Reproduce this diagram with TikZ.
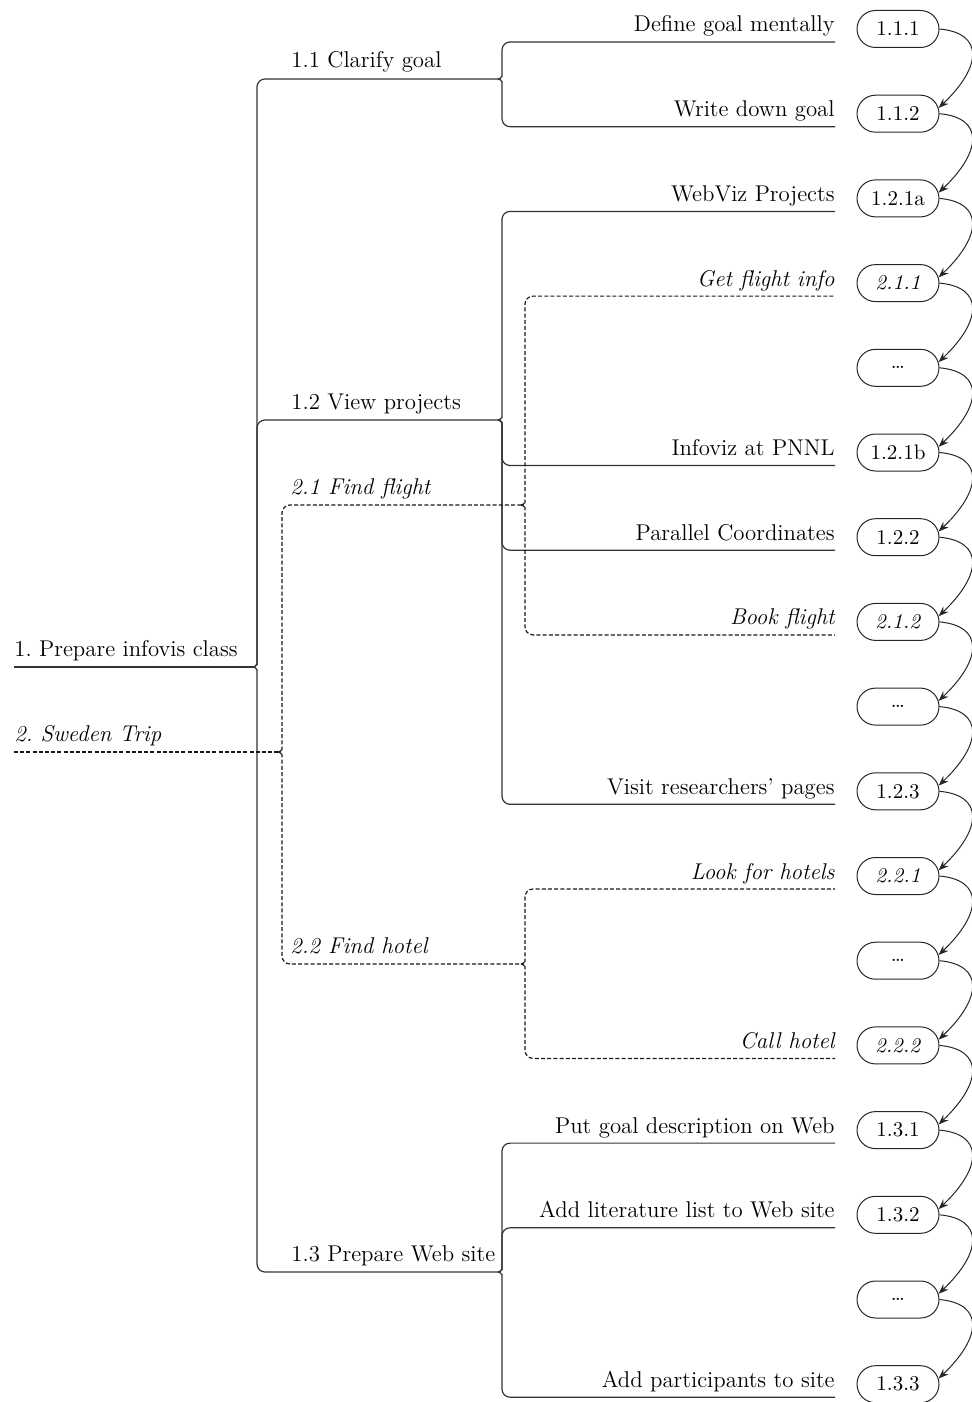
\documentclass[tikz,border=0pt]{standalone}
\usetikzlibrary{arrows.meta,shapes.misc,calc}

\tikzset{
  tree/.style={line width=0.6pt, draw=black!80, rounded corners=4pt},
  dtree/.style={tree, draw=black!90, dash pattern=on 2pt off 1.1pt},
  lbl/.style={inner sep=0pt, font=\fontsize{11.4}{13}\selectfont\frenchspacing},
  leaf/.style={lbl, anchor=base east},
  inner/.style={lbl, anchor=base west},
  pill/.style={draw=black!85, line width=0.5pt, rounded rectangle,
    minimum width=41pt, minimum height=18.5pt, inner sep=0pt,
    font=\fontsize{10.5}{12}\selectfont},
  flow/.style={-{Stealth[length=5pt,width=3.8pt]}, line width=0.5pt, draw=black!85}
}
% a branch leaving a brace tip upwards / downwards
\newcommand\upbr[3]{\draw[#1] (#2) to[out=0,in=-90] ++(4,-10) |- (#3);}
\newcommand\dnbr[3]{\draw[#1] (#2) to[out=0,in=90] ++(4,10) |- (#3);}

\begin{document}
\begin{tikzpicture}[x=0.5pt,y=-0.5pt]
\useasboundingbox (0,0) rectangle (972,1402);

% ---- branch tips ----
\coordinate (r1s) at (14,667);   \coordinate (r1) at (253,667);
\coordinate (r2s) at (14,752);   \coordinate (r2) at (278,752);
\coordinate (c11) at (498,79);
\coordinate (c12) at (498,420);
\coordinate (c13) at (498,1272);
\coordinate (c21) at (521,505);
\coordinate (c22) at (521,964);

% ---- leaf line ends (one row every 84.7px) ----
\foreach \k in {0,...,16}{
  \coordinate (e\k) at (835,{42+84.7*\k});
}

% ---- plan 1: Prepare infovis class ----
\draw[tree] (r1s) -- (r1);
\upbr{tree}{r1}{c11}
\upbr{tree}{r1}{c12}
\dnbr{tree}{r1}{c13}

\upbr{tree}{c11}{e0}
\dnbr{tree}{c11}{e1}

\upbr{tree}{c12}{e2}
\dnbr{tree}{c12}{e5}
\dnbr{tree}{c12}{e6}
\dnbr{tree}{c12}{e9}

\upbr{tree}{c13}{e13}
\upbr{tree}{c13}{e14}
\dnbr{tree}{c13}{e16}

% ---- plan 2: Sweden Trip ----
\draw[dtree] (r2s) -- (r2);
\upbr{dtree}{r2}{c21}
\dnbr{dtree}{r2}{c22}

\upbr{dtree}{c21}{e3}
\dnbr{dtree}{c21}{e7}

\upbr{dtree}{c22}{e10}
\dnbr{dtree}{c22}{e12}

% ---- labels of the inner steps ----
\node[inner] (n1)  at ($(r1s)+(0,-11)$) {1. Prepare infovis class};
\node[inner] (n2)  at ($(r2s)+(0,-11)$) {\itshape 2. Sweden Trip};
\node[inner] (n11) at (291,68)   {1.1 Clarify goal};
\node[inner] (n12) at (291,409)  {1.2 View projects};
\node[inner] (n13) at (291,1261) {1.3 Prepare Web site};
\node[inner] (n21) at (290,494)  {\itshape 2.1 Find flight};
\node[inner] (n22) at (290,953)  {\itshape 2.2 Find hotel};

% ---- labels of the leaves ----
\node[leaf] (l0)  at ($(e0)+(0,-10)$)  {Define goal mentally};
\node[leaf] (l1)  at ($(e1)+(0,-10)$)  {Write down goal};
\node[leaf] (l2)  at ($(e2)+(0,-10)$)  {WebViz Projects};
\node[leaf] (l3)  at ($(e3)+(0,-10)$)  {\itshape Get flight info};
\node[leaf] (l5)  at ($(e5)+(0,-10)$)  {Infoviz at PNNL};
\node[leaf] (l6)  at ($(e6)+(0,-10)$)  {Parallel Coordinates};
\node[leaf] (l7)  at ($(e7)+(0,-10)$)  {\itshape Book flight};
\node[leaf] (l9)  at ($(e9)+(0,-10)$)  {Visit researchers’ pages};
\node[leaf] (l10) at ($(e10)+(0,-10)$) {\itshape Look for hotels};
\node[leaf] (l12) at ($(e12)+(0,-10)$) {\itshape Call hotel};
\node[leaf] (l13) at ($(e13)+(0,-10)$) {Put goal description on Web};
\node[leaf] (l14) at ($(e14)+(0,-10)$) {Add literature list to Web site};
\node[leaf] (l16) at ($(e16)+(0,-10)$) {Add participants to site};

% ---- execution sequence ----
\foreach \k/\t in {0/1.1.1, 1/1.1.2, 2/1.2.1a, 3/\textit{2.1.1}, 4/\dots,
                   5/1.2.1b, 6/1.2.2, 7/\textit{2.1.2}, 8/\dots, 9/1.2.3,
                   10/\textit{2.2.1}, 11/\dots, 12/\textit{2.2.2}, 13/1.3.1,
                   14/1.3.2, 15/\dots, 16/1.3.3}{
  \node[pill] (p\k) at (898,{29+84.7*\k}) {\t};
}
\foreach \k [evaluate=\k as \n using int(\k+1)] in {0,...,15}{
  \draw[flow] (p\k.east) .. controls +(44,4) and +(44,-42) .. (p\n.8);
}
\end{tikzpicture}
\end{document}
